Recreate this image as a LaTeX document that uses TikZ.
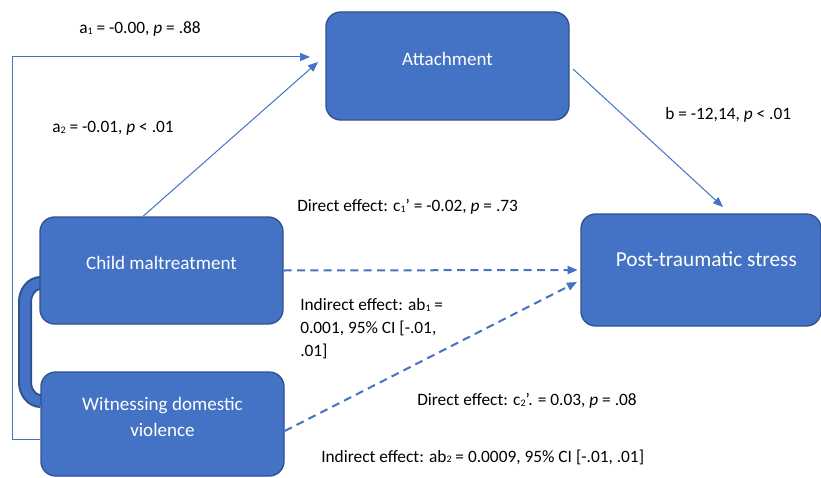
\documentclass[tikz,border=0pt]{standalone}
\usepackage{fontspec}
\setmainfont{Carlito}
\usetikzlibrary{arrows.meta,backgrounds}
\definecolor{obl}{HTML}{4472C4}
\definecolor{obd}{HTML}{2F528F}
\newcommand{\sbs}[1]{{\fontsize{7.5}{7.5}\selectfont\raisebox{-0.6pt}{#1}}}
\begin{document}
\begin{tikzpicture}[x=0.75pt,y=-0.75pt,
  box/.style={draw=obd,line width=1pt,fill=obl,rounded corners=11pt,inner sep=0pt},
  boxtxt/.style={text=white,font=\fontsize{14.3}{19}\selectfont,align=center,inner sep=0pt},
  thinarr/.style={draw=obl,line width=0.75pt,-{Triangle[length=7.5pt,width=6pt]}},
  dsh/.style={draw=obl,line width=1.5pt,dash pattern=on 6pt off 4pt,-{Triangle[length=7.5pt,width=6pt]}},
  lab/.style={font=\fontsize{13}{17.25}\selectfont,anchor=west,align=left,inner sep=0pt}]
\useasboundingbox (0,0) rectangle (821,478);

% boxes
\node[box,minimum width=182.25pt,minimum height=81pt,
  label={[boxtxt,yshift=5.25pt]center:Attachment}] (att) at (447.5,66) {};
\node[box,minimum width=182.25pt,minimum height=80.25pt,
  label={[boxtxt,yshift=5.5pt]center:Child maltreatment}] (cm) at (161.5,270.5) {};
\node[box,minimum width=182.25pt,minimum height=78pt,
  label={[boxtxt,yshift=5.25pt]center:Witnessing domestic\\violence}] (wdv) at (162.5,424) {};
\node[box,minimum width=180pt,minimum height=84pt,
  label={[boxtxt,font=\fontsize{16}{20}\selectfont,yshift=8pt,xshift=4pt]center:Post-traumatic stress}] (pts) at (701,270) {};

% coordinates for free ends
\coordinate (lb) at (12,439);
\coordinate (lt) at (12,57);
\coordinate (a1e) at (310,57);
\coordinate (a2s) at (143,216);
\coordinate (a2e) at (318,62);
\coordinate (bs) at (573,69);
\coordinate (be) at (723,207);
\coordinate (c2e) at (577,282);

% correlation band
\begin{pgfonlayer}{background}
\draw[obd,line width=10.5pt] (41,283) to[out=180,in=90] (25,302) -- (25,382) to[out=-90,in=180] (41,401);
\draw[obl,line width=7.5pt] (41,283) to[out=180,in=90] (25,302) -- (25,382) to[out=-90,in=180] (41,401);
\end{pgfonlayer}

% connectors
\draw[thinarr] (wdv.west |- lb) -- (lb) -- (lt) -- (a1e);
\draw[thinarr] (a2s |- cm.north) -- (a2e);
\draw[thinarr] (bs) -- (be);
\draw[dsh,shorten >=2pt] (cm.east) -- (pts.west);
\draw[dsh] ([yshift=-5.25pt]wdv.east) -- (c2e);

% labels
\node[lab] (l1) at (79,29) {a\sbs{1} = -0.00, \textit{p} = .88};
\node[lab] (l2) at (52,128) {a\sbs{2} = -0.01, \textit{p} < .01};
\node[lab] (l3) at (665,115) {b = -12,14, \textit{p} < .01};
\node[lab] (l4) at (297,207) {Direct effect: c\sbs{1}’ = -0.02, \textit{p} = .73};
\node[lab] (l5) at (300,329) {Indirect effect: ab\sbs{1} =\\0.001, 95\% CI [-.01,\\.01]};
\node[lab] (l6) at (417,401) {Direct effect: c\sbs{2}’. = 0.03, \textit{p} = .08};
\node[lab] (l7) at (321,457) {Indirect effect: ab\sbs{2} = 0.0009, 95\% CI [-.01, .01]};
\end{tikzpicture}
\end{document}
